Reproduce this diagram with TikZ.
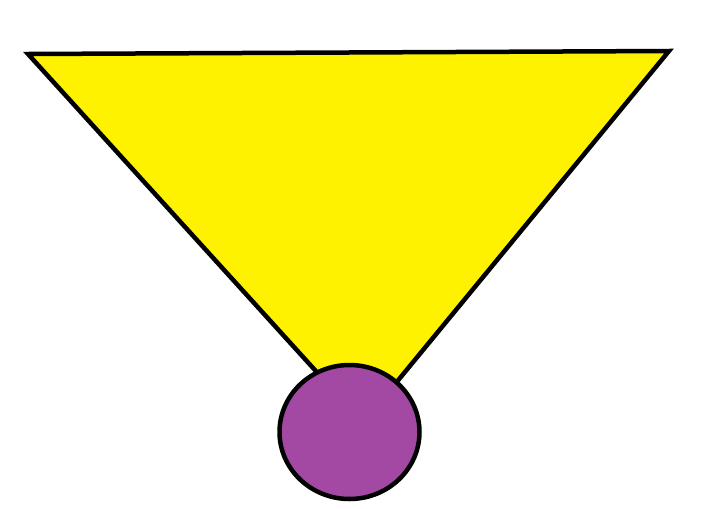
\documentclass[tikz,border=0pt]{standalone}
\usetikzlibrary{shapes.geometric}
\definecolor{paintyellow}{HTML}{FFF200}
\definecolor{paintpurple}{HTML}{A349A4}
\begin{document}
\begin{tikzpicture}[x=1pt,y=-1pt,
  outline/.style={draw=black,line width=4.5pt,line join=miter}]
\useasboundingbox (0,0) rectangle (710,509);
\coordinate (tl) at (28,54);
\coordinate (tr) at (669,51);
\coordinate (bv) at (363,423);
\filldraw[outline,fill=paintyellow] (tl) -- (tr) -- (bv) -- cycle;
\node[ellipse,outline,fill=paintpurple,minimum width=140pt,minimum height=134pt,inner sep=0pt] (ball) at (349.5,432) {};
\end{tikzpicture}
\end{document}
